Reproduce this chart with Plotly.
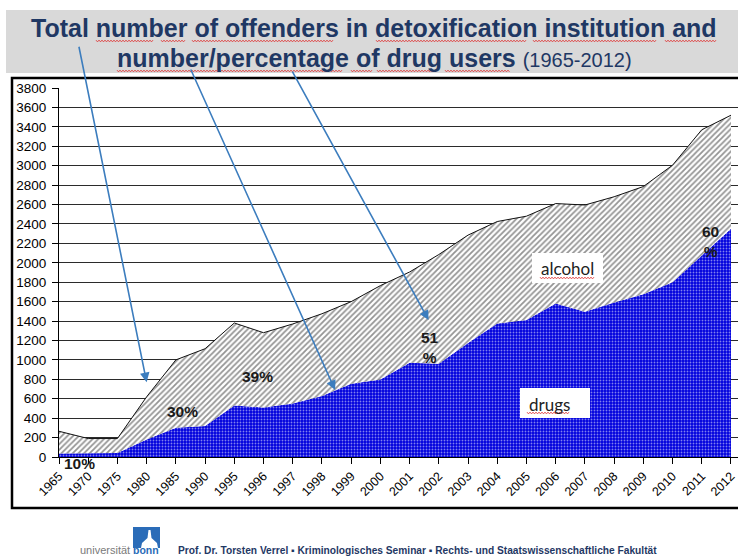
import plotly.graph_objects as go

# ---- data -------------------------------------------------------------
years = ["1965", "1970", "1975", "1980", "1985", "1990", "1995", "1996",
         "1997", "1998", "1999", "2000", "2001", "2002", "2003", "2004",
         "2005", "2006", "2007", "2008", "2009", "2010", "2011", "2012"]

# total number of offenders in detoxification institutions
total_offenders = [265, 190, 190, 620, 1000, 1115, 1380, 1280,
                   1370, 1475, 1600, 1765, 1905, 2085, 2285, 2425,
                   2480, 2610, 2595, 2680, 2785, 3005, 3370, 3520]

# of which: drug users
drug_users = [35, 35, 40, 180, 300, 320, 530, 510,
              550, 628, 755, 797, 970, 960, 1175, 1375,
              1410, 1580, 1495, 1590, 1675, 1800, 2070, 2350]

share_labels = ["10%", "30%", "39%", "51<br>%", "60<br>%"]

y_ticks = list(range(0, 3801, 200))

# ---- page geometry helpers (pixel -> paper) ---------------------------
W, H = 738, 556


def px(x):
    return x / W


def py(y):
    return 1 - y / H


def squiggle(x0, x1, y, step=1.5, amp=0.9):
    """Wavy red underline as an SVG path in paper coordinates."""
    pts = []
    x, k = x0, 0
    while x <= x1:
        pts.append((x, y + (amp if k % 2 else -amp)))
        x += step
        k += 1
    return "M " + " L ".join(f"{px(a):.5f},{py(b):.5f}" for a, b in pts)


SANS = "Liberation Sans, Arial, sans-serif"
NAVY = "#1F3864"
ARROW = "#3C7DBE"

idx = list(range(len(years)))

fig = go.Figure()

# drug users (bottom area, blue with white dots)
fig.add_trace(go.Scatter(
    x=idx, y=drug_users, mode="lines", name="drugs",
    line=dict(color="#0000DD", width=0),
    fill="tozeroy", fillcolor="#0000DD",
    fillpattern=dict(shape=".", fgcolor="white", bgcolor="#0000DD",
                     size=3, solidity=0.3),
    hoverinfo="skip", showlegend=False,
))

# alcohol (hatched band up to the total)
fig.add_trace(go.Scatter(
    x=idx, y=total_offenders, mode="lines", name="alcohol",
    line=dict(color="#111111", width=1),
    fill="tonexty", fillcolor="white",
    fillpattern=dict(shape="/", fgcolor="#2a2a2a", bgcolor="white",
                     size=4, solidity=0.45),
    hoverinfo="skip", showlegend=False,
))

shapes = [
    # title banner
    dict(type="rect", xref="paper", yref="paper",
         x0=px(6), x1=1.0, y0=py(73), y1=py(10),
         fillcolor="#D9D9D9", line=dict(width=0), layer="below"),
    # chart frame
    dict(type="rect", xref="paper", yref="paper",
         x0=px(12), x1=px(770), y0=py(508), y1=py(78),
         line=dict(color="black", width=2.5), fillcolor="rgba(0,0,0,0)"),
    # label boxes
    dict(type="rect", xref="paper", yref="paper",
         x0=px(532), x1=px(603), y0=py(283), y1=py(253),
         fillcolor="white", line=dict(width=0)),
    dict(type="rect", xref="paper", yref="paper",
         x0=px(520), x1=px(590), y0=py(418), y1=py(388),
         fillcolor="white", line=dict(width=0)),
    # university logo
    dict(type="rect", xref="paper", yref="paper",
         x0=px(133), x1=px(160), y0=py(548), y1=py(527),
         fillcolor="#2A6CB8", line=dict(width=0)),
]

# small white tower in the logo
tower = [(148.5, 530), (150.5, 530), (151.5, 538), (157, 543), (158, 548),
         (141, 548), (142, 543), (147.5, 538)]
path = "M " + " L ".join(f"{px(a):.5f},{py(b):.5f}" for a, b in tower) + " Z"
shapes.append(dict(type="path", xref="paper", yref="paper", path=path,
                   fillcolor="white", line=dict(width=0)))

# spell-check style wavy underlines below title words and box labels
underlines = [
    (96, 153, 41), (161, 185, 41), (192, 334, 41), (376, 526, 41),
    (533, 657, 41), (665, 716, 41),
    (117, 343, 71), (351, 372, 71), (377, 437, 71), (445, 510, 71),
    (540, 595, 278), (527, 570, 413),
]
for a, b, c in underlines:
    shapes.append(dict(type="path", xref="paper", yref="paper",
                       path=squiggle(a, b, c),
                       line=dict(color="#E03030", width=0.8)))

annotations = [
    dict(text="<b>Total number of offenders in detoxification institution and</b>",
         x=px(374), y=py(28), xref="paper", yref="paper", showarrow=False,
         xanchor="center", yanchor="middle",
         font=dict(family=SANS, size=25, color=NAVY)),
    dict(text="<b>number/percentage of drug users</b> "
              "<span style='font-size:20px'>(1965-2012)</span>",
         x=px(374), y=py(58), xref="paper", yref="paper", showarrow=False,
         xanchor="center", yanchor="middle",
         font=dict(family=SANS, size=25, color=NAVY)),
    dict(text="alcohol", x=px(567), y=py(268), xref="paper", yref="paper",
         showarrow=False, xanchor="center", yanchor="middle",
         font=dict(family="Lato, Open Sans, sans-serif", size=17, color="#222")),
    dict(text="drugs", x=px(549), y=py(404), xref="paper", yref="paper",
         showarrow=False, xanchor="center", yanchor="middle",
         font=dict(family="Lato, Open Sans, sans-serif", size=17, color="#222")),
    dict(text="universität", x=px(131.5), y=py(550), xref="paper", yref="paper",
         showarrow=False, xanchor="right", yanchor="middle",
         font=dict(family=SANS, size=11, color="#7a7a7a")),
    dict(text="<b>bonn</b>", x=px(131), y=py(550), xref="paper", yref="paper",
         showarrow=False, xanchor="left", yanchor="middle",
         font=dict(family=SANS, size=10.5, color="#2A6CB8")),
    dict(text="<b>Prof. Dr. Torsten Verrel ▪ Kriminologisches Seminar ▪ "
              "Rechts- und Staatswissenschaftliche Fakultät</b>",
         x=px(176), y=py(550), xref="paper", yref="paper", showarrow=False,
         xanchor="left", yanchor="middle",
         font=dict(family=SANS, size=10.2, color=NAVY)),
]

# share of drug users
share_pos = [(79, 463), (182, 411), (257, 376), (430, 347), (710, 242)]
for txt, (a, b) in zip(share_labels, share_pos):
    annotations.append(dict(
        text=f"<b>{txt}</b>", x=px(a), y=py(b), xref="paper", yref="paper",
        showarrow=False, xanchor="center", yanchor="middle",
        font=dict(family=SANS, size=15.5, color="#1a1a1a")))

# arrows from the title down into the chart (head in data coords, tail offset in px)
arrow_heads = [(3.0, 770, -68, -337), (9.45, 690, -145, -322), (12.65, 1410, -137, -250)]
for xh, yh, ax, ay in arrow_heads:
    annotations.append(dict(
        x=xh, y=yh, xref="x", yref="y", ax=ax, ay=ay, axref="pixel", ayref="pixel",
        text="", showarrow=True, arrowhead=2, arrowsize=1.2, arrowwidth=1.6,
        arrowcolor=ARROW))

fig.update_layout(
    width=W, height=H, autosize=False,
    margin=dict(l=0, r=0, t=0, b=0, autoexpand=False),
    paper_bgcolor="white", plot_bgcolor="white",
    shapes=shapes, annotations=annotations,
    xaxis=dict(
        domain=[px(59), 1.0], range=[0, 23.24], automargin=False,
        tickmode="array", tickvals=idx, ticktext=years, tickangle=-45,
        ticks="outside", ticklen=6, tickcolor="black", tickwidth=1,
        ticklabeloverflow="allow",
        showline=True, linecolor="black", linewidth=1,
        showgrid=False, zeroline=False,
        tickfont=dict(family=SANS, size=12.5, color="black"),
    ),
    yaxis=dict(
        domain=[py(457), py(88)], range=[0, 3800], automargin=False,
        tickmode="array", tickvals=y_ticks,
        ticks="outside", ticklen=6, tickcolor="black", tickwidth=1,
        ticklabelstandoff=3,
        showline=True, linecolor="black", linewidth=1,
        showgrid=True, gridcolor="#2b2b2b", gridwidth=1, zeroline=False,
        tickfont=dict(family=SANS, size=13.5, color="black"),
    ),
)

fig.write_html("out.html")
